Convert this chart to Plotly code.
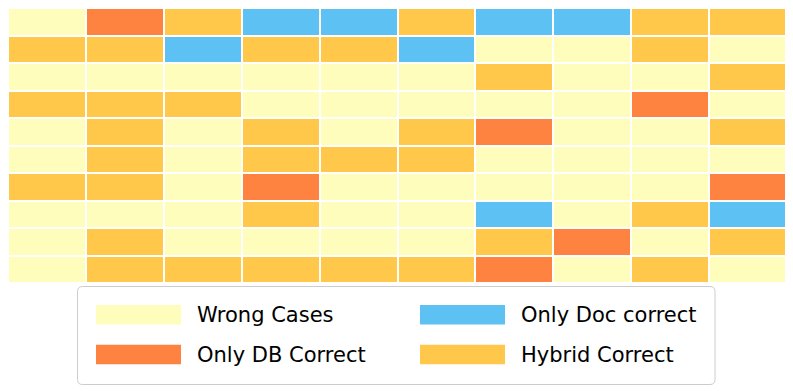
import plotly.graph_objects as go

categories = ["Wrong Cases", "Only DB Correct", "Only Doc correct", "Hybrid Correct"]
colors = ["#FFFDBC", "#FF8340", "#5DC1F4", "#FFC84B"]

# W=0 wrong, D=1 only DB, O=2 only Doc, H=3 hybrid
rows = [
    "WDHOOHOOHH",
    "HHOHHOWWHW",
    "WWWWWWHWWH",
    "HHHWWWWWDW",
    "WHWHWHDWWH",
    "WHWHHHWWWW",
    "HHWDWWWWWD",
    "WWWHWWOWHO",
    "WHWWWWHDWH",
    "WHHHHHDWHW",
]
code = {"W": 0, "D": 1, "O": 2, "H": 3}
z = [[code[c] for c in r] for r in rows]

colorscale = []
n = len(colors)
for i, c in enumerate(colors):
    colorscale.append([i / n, c])
    colorscale.append([(i + 1) / n, c])

fig = go.Figure(go.Heatmap(
    z=z, zmin=-0.5, zmax=3.5, colorscale=colorscale, showscale=False,
    xgap=2, ygap=2, hoverinfo="skip"))

OFF = 8  # page body margin
W, H = 785, 383
ml, mt = 0, 0
pw, ph = 779, 275
mr, mb = W - ml - pw, H - mt - ph

def px(x):
    return (x - OFF - ml) / pw

def py(y):
    return (ph + mt - (y - OFF)) / ph

shapes = []
# legend box with rounded corners (page pixel coords)
x0, x1, y0, y1, r = 77.5, 715, 286.5, 384.5, 5
path = (f"M {px(x0+r)},{py(y0)} L {px(x1-r)},{py(y0)} Q {px(x1)},{py(y0)} {px(x1)},{py(y0+r)} "
        f"L {px(x1)},{py(y1-r)} Q {px(x1)},{py(y1)} {px(x1-r)},{py(y1)} "
        f"L {px(x0+r)},{py(y1)} Q {px(x0)},{py(y1)} {px(x0)},{py(y1-r)} "
        f"L {px(x0)},{py(y0+r)} Q {px(x0)},{py(y0)} {px(x0+r)},{py(y0)} Z")
shapes.append(dict(type="path", xref="paper", yref="paper", path=path,
                   line=dict(color="#CCCCCC", width=1), fillcolor="rgba(255,255,255,0.8)"))

legend_order = [(0, 96, 314.7), (2, 420, 314.7), (1, 96, 354.5), (3, 420, 354.5)]
annotations = []
for idx, lx, ly in legend_order:
    shapes.append(dict(type="rect", xref="paper", yref="paper",
                       x0=px(lx), x1=px(lx + 85), y0=py(ly - 9.7), y1=py(ly + 9.7),
                       fillcolor=colors[idx], line=dict(width=0)))
    annotations.append(dict(xref="paper", yref="paper", x=px(lx + 99), y=py(ly),
                            text=categories[idx], showarrow=False, xanchor="left",
                            yanchor="middle", font=dict(size=21, color="#000000",
                                                        family="DejaVu Sans")))

fig.update_layout(
    width=W, height=H, margin=dict(l=ml, r=mr, t=mt, b=mb, pad=0),
    paper_bgcolor="white", plot_bgcolor="white",
    xaxis=dict(visible=False, showgrid=False, zeroline=False),
    yaxis=dict(visible=False, showgrid=False, zeroline=False, autorange="reversed"),
    shapes=shapes, annotations=annotations,
)

fig.write_html("out.html")
